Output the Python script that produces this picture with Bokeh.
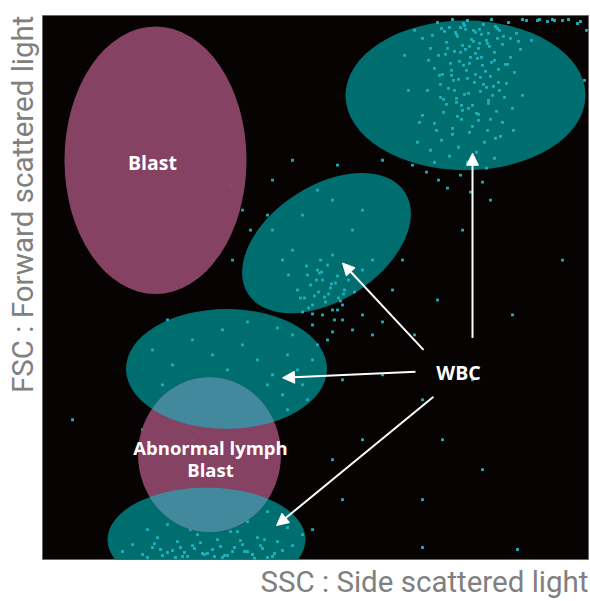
import numpy as np
from bokeh.plotting import figure
from bokeh.models import Range1d, Title, Arrow, NormalHead, ColumnDataSource
from bokeh.core.properties import value
from bokeh.embed import file_html
from bokeh.resources import INLINE

# Gate regions (SSC channel, FSC channel, width, height, tilt in degrees)
gate_names = ["Blast", "WBC-1", "WBC-2", "WBC-3", "Abnormal lymph Blast", "WBC-4"]
gate_x = [113, 423, 284, 184, 167, 164]
gate_y = [400, 465, 317, 191, 105, 20]
gate_w = [182, 240, 187, 201, 143, 198]
gate_h = [268, 150, 115, 120, 155, 104]
gate_angle = [0, 0, 33, 0, 0, 0]
gate_kind = ["blast", "wbc", "wbc", "wbc", "blast", "wbc"]

# Events (SSC, FSC)
ev_ssc = [
    # granulocyte cloud
    372, 380, 395, 402, 410, 418, 425, 433, 441, 449, 457, 466, 474, 484, 497, 512, 526, 538,
    388, 396, 404, 412, 420, 428, 436, 444, 452, 460, 468, 478,
    392, 400, 408, 416, 424, 432, 440, 448, 456, 464, 472,
    385, 398, 406, 414, 422, 430, 438, 446, 454, 462, 470,
    380, 392, 401, 410, 419, 427, 436, 445, 453, 460,
    375, 388, 399, 407, 416, 425, 434, 444, 452,
    370, 384, 396, 405, 418, 428, 440, 448,
    415, 423, 431, 439, 447, 455, 427, 435, 443, 451, 411, 419,
    407, 414, 421, 429, 437, 445, 453, 461, 403, 417, 433, 449, 465, 409, 425, 441, 457,
    398, 412, 426, 438, 450, 404, 420, 434, 446, 394, 410, 430, 442, 458, 415, 423, 437,
    390, 399, 413, 422, 431, 446, 455, 468, 476, 405, 418, 427, 439, 452, 463, 386, 397,
    409, 421, 433, 444, 456, 401, 414, 426, 436, 448, 362, 366, 377, 392, 471, 480, 489,
    # monocyte cloud
    262, 270, 276, 283, 290, 296, 302, 268, 280, 288, 295, 275, 285, 260, 300, 292, 306, 312,
    255, 265, 278, 290, 246, 320, 330, 230, 260, 290, 310, 250, 240, 320,
    272, 286, 298, 266, 279, 293, 282, 270, 258, 274, 289, 301, 264, 277,
    # lymphocyte cloud
    110, 130, 150, 170, 185, 200, 215, 230, 245, 255, 120, 140, 160, 175, 195, 210, 225, 240,
    260, 270, 180, 205, 235, 250, 150, 265, 275, 245, 220,
    270, 280, 290, 300, 310, 295, 320, 285, 330, 340,
    # debris near origin
    100, 110, 120, 130, 140, 150, 160, 170, 180, 190, 200, 210, 220, 230, 240,
    115, 135, 155, 175, 195, 215, 235, 90, 250, 125, 165, 205, 245, 145, 185, 225, 260, 80, 105,
    105, 125, 145, 165, 185, 205, 225, 112, 138, 158, 178, 198, 218, 148, 168, 188,
    118, 133, 152, 172, 192, 212, 232, 142, 162, 182, 202, 222,
    # scattered events
    480, 495, 505, 520, 535, 544, 542, 510,
    350, 372, 360, 395, 420, 470, 430, 380, 340, 300, 400, 440, 320, 290, 380, 300, 270, 475,
    380, 225, 208, 190, 250, 275, 295, 340, 230, 200, 520, 150, 125, 100, 30, 189, 170,
]
ev_fsc = [
    530, 522, 538, 529, 541, 533, 540, 528, 536, 541, 530, 538, 527, 540, 541, 540, 541, 539,
    512, 505, 518, 509, 515, 503, 512, 520, 508, 516, 503, 511,
    492, 486, 497, 481, 490, 478, 495, 484, 491, 477, 488,
    470, 463, 472, 458, 466, 455, 469, 460, 449, 463, 452,
    445, 437, 448, 432, 441, 428, 440, 430, 422, 438,
    418, 410, 420, 404, 413, 398, 408, 392, 402,
    395, 388, 380, 372, 385, 368, 378, 360,
    524, 531, 519, 526, 514, 522, 497, 502, 489, 474, 480, 455,
    533, 526, 537, 521, 531, 517, 534, 524, 506, 499, 507, 498, 496, 485, 482, 476, 470,
    476, 470, 467, 483, 465, 456, 450, 447, 457, 430, 426, 434, 418, 424, 444, 511, 517,
    525, 532, 528, 535, 530, 527, 532, 522, 519, 512, 508, 514, 503, 500, 496, 500, 485,
    490, 495, 486, 473, 478, 461, 462, 452, 446, 441, 505, 470, 438, 398, 430, 465, 520,
    262, 255, 268, 258, 250, 262, 270, 275, 280, 272, 284, 290, 295, 248, 255, 240, 280, 268,
    270, 285, 300, 305, 285, 290, 300, 330, 345, 360, 330, 310, 300, 350,
    264, 266, 259, 252, 288, 277, 263, 246, 262, 280, 276, 266, 294, 287,
    210, 195, 220, 205, 190, 215, 200, 185, 205, 190, 175, 160, 180, 165, 172, 160, 175, 165,
    175, 200, 230, 238, 232, 225, 150, 160, 215, 150, 145,
    235, 245, 228, 240, 230, 250, 245, 220, 225, 238,
    5, 12, 4, 9, 3, 14, 6, 10, 2, 8, 15, 5, 11, 3, 9,
    22, 18, 25, 20, 28, 22, 18, 15, 14, 35, 40, 38, 32, 50, 55, 48, 25, 8, 30,
    2, 7, 3, 6, 4, 8, 2, 16, 12, 17, 13, 19, 14, 30, 33, 28,
    10, 2, 11, 3, 12, 1, 6, 7, 5, 4, 8, 20,
    541, 540, 539, 540, 537, 530, 480, 541,
    270, 225, 300, 260, 330, 245, 180, 160, 185, 180, 120, 90, 120, 100, 60, 60, 30, 10,
    12, 345, 330, 300, 400, 370, 395, 400, 380, 350, 300, 120, 240, 130, 140, 375, 300,
]

TEAL = "#006d6e"
MAGENTA = "#8d4668"
OVERLAP = "#3d8ea2"
EVENT = "#1fb1be"

p = figure(width=590, height=601, x_range=Range1d(0, 546), y_range=Range1d(0, 545),
           output_backend="svg", toolbar_location=None,
           x_axis_location=None, y_axis_location=None,
           min_border_left=0, min_border_right=2, min_border_top=15, min_border_bottom=0)
p.grid.visible = False
p.background_fill_color = "#070303"
p.border_fill_color = "white"
p.outline_line_color = "#6a6a6a"
p.outline_line_width = 1

p.add_layout(Title(text="SSC : Side scattered light", align="right", text_font="Roboto",
                   text_font_size="29.5px", text_font_style="normal", text_color="#808080",
                   standoff=6), "below")
p.add_layout(Title(text="FSC : Forward scattered light", align="right", text_font="Roboto",
                   text_font_size="29.5px", text_font_style="normal", text_color="#808080",
                   standoff=6), "left")


def gate_sel(kind):
    idx = [i for i, k in enumerate(gate_kind) if k == kind]
    return dict(x=[gate_x[i] for i in idx], y=[gate_y[i] for i in idx],
                w=[gate_w[i] for i in idx], h=[gate_h[i] for i in idx],
                a=[np.deg2rad(gate_angle[i]) for i in idx])


wbc = ColumnDataSource(gate_sel("wbc"))
blast = ColumnDataSource(gate_sel("blast"))

p.ellipse(x="x", y="y", width="w", height="h", angle="a", source=wbc,
          fill_color=TEAL, line_color=None)
p.scatter(ev_ssc, ev_fsc, marker="square", size=2.8, fill_color=EVENT, line_color=None)
p.ellipse(x="x", y="y", width="w", height="h", angle="a", source=blast,
          fill_color=MAGENTA, fill_alpha=0.95, line_color=None)


def inside(px, py, i):
    a = np.deg2rad(gate_angle[i])
    dx, dy = px - gate_x[i], py - gate_y[i]
    u = dx * np.cos(a) + dy * np.sin(a)
    v = -dx * np.sin(a) + dy * np.cos(a)
    return (u / (gate_w[i] / 2)) ** 2 + (v / (gate_h[i] / 2)) ** 2 <= 1.0


def boundary(i, n=360):
    t = np.linspace(0, 2 * np.pi, n, endpoint=False)
    a = np.deg2rad(gate_angle[i])
    u = gate_w[i] / 2 * np.cos(t)
    v = gate_h[i] / 2 * np.sin(t)
    return (gate_x[i] + u * np.cos(a) - v * np.sin(a),
            gate_y[i] + u * np.sin(a) + v * np.cos(a))


# Where a WBC gate overlaps the abnormal lymph gate
lymph = gate_names.index("Abnormal lymph Blast")
for j, k in enumerate(gate_kind):
    if k != "wbc":
        continue
    bx, by = boundary(lymph)
    wx, wy = boundary(j)
    m1 = inside(bx, by, j)
    m2 = inside(wx, wy, lymph)
    xs = np.concatenate([bx[m1], wx[m2]])
    ys = np.concatenate([by[m1], wy[m2]])
    if len(xs) < 3:
        continue
    cx, cy = xs.mean(), ys.mean()
    order = np.argsort(np.arctan2(ys - cy, xs - cx))
    p.patch(xs[order], ys[order], fill_color=OVERLAP, fill_alpha=0.93, line_color=None)

# Arrows from the WBC label to each WBC gate
arrow_x0 = [430, 381, 373, 391]
arrow_y0 = [222, 210, 188, 163]
arrow_x1 = [430, 300, 240, 234]
arrow_y1 = [407, 297, 182, 34]
for x0, y0, x1, y1 in zip(arrow_x0, arrow_y0, arrow_x1, arrow_y1):
    p.add_layout(Arrow(end=NormalHead(size=12, fill_color="white", line_color="white"),
                       x_start=x0, y_start=y0, x_end=x1, y_end=y1,
                       line_color="white", line_width=2))

label_font = value("Open Sans")
p.text(x=[110, 416], y=[398, 187], text=["Blast", "WBC"], text_font=label_font,
       text_font_style="bold", text_font_size="19.5px", text_color="white",
       text_align="center", text_baseline="middle")
p.text(x=[168, 168], y=[112, 90], text=["Abnormal lymph", "Blast"], text_font=label_font,
       text_font_style="bold", text_font_size="18.5px", text_color="white",
       text_align="center", text_baseline="middle")

open("out.html", "w").write(file_html(p, INLINE))
